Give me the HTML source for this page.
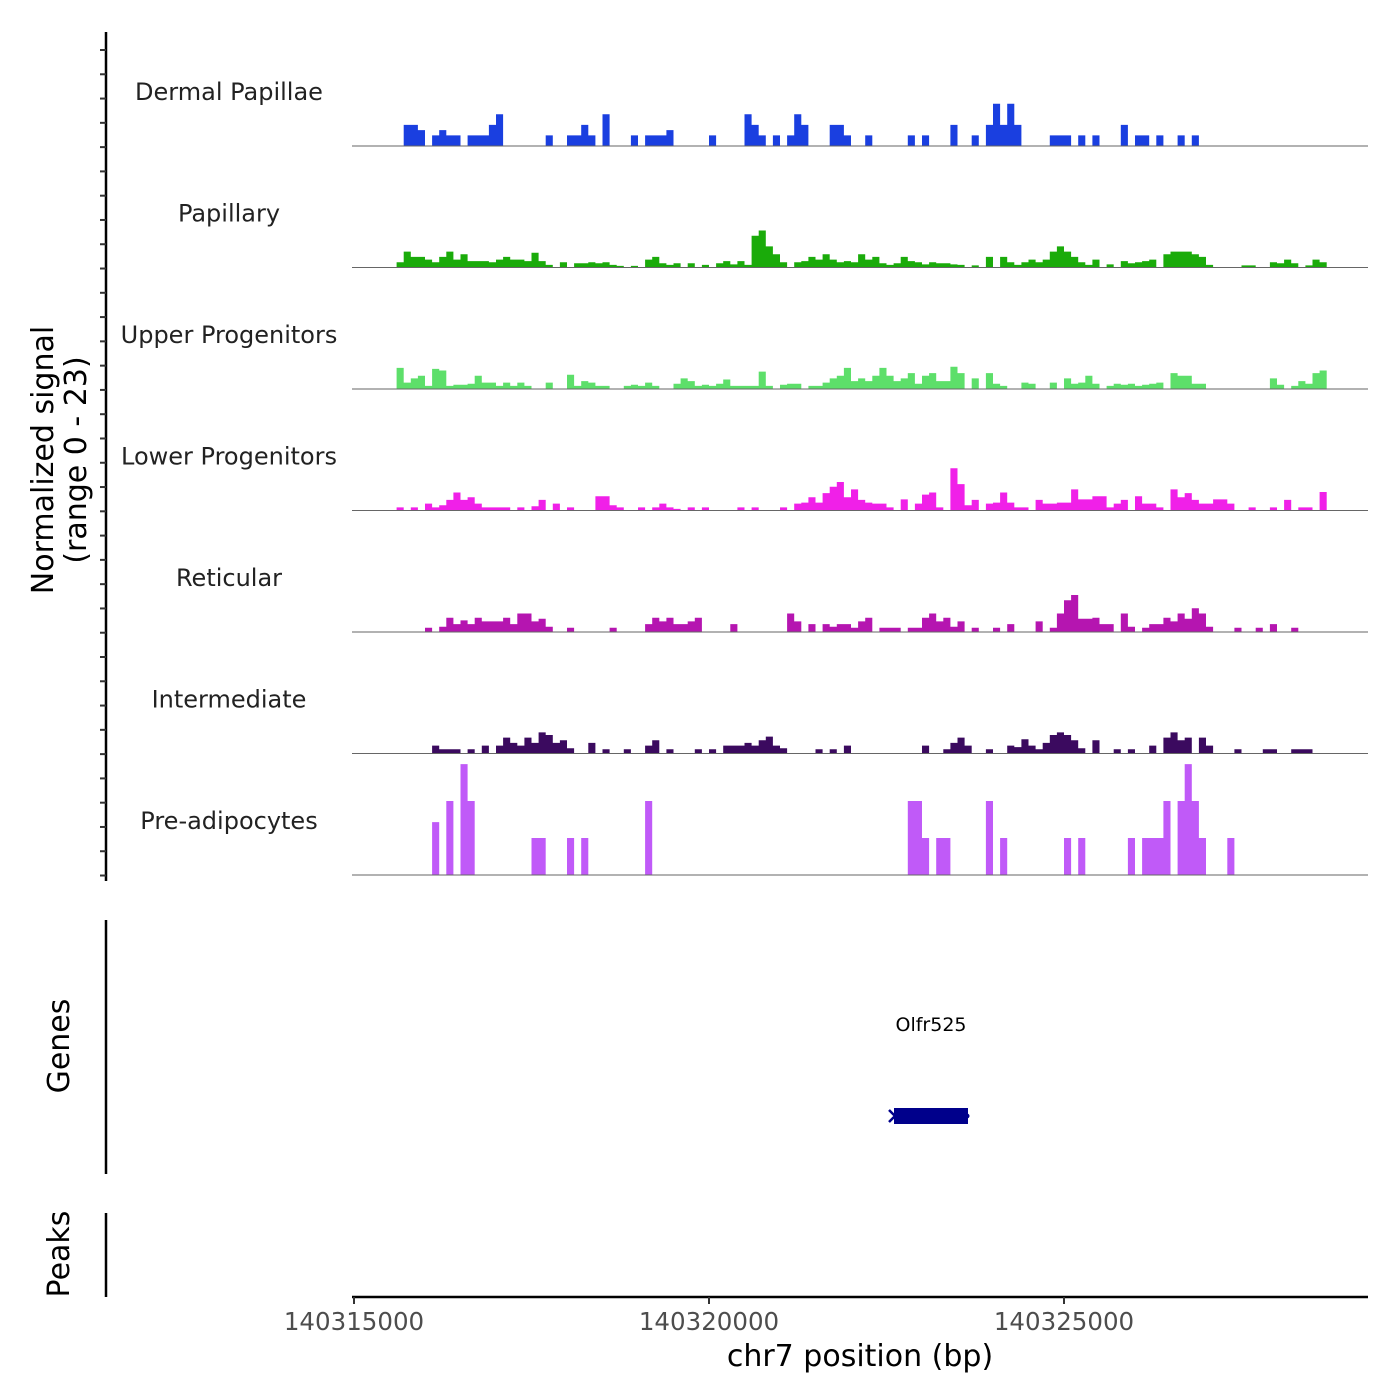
<!DOCTYPE html>
<html><head><meta charset="utf-8">
<style>
html,body{margin:0;padding:0;background:#fff;}
svg{display:block;font-family:"DejaVu Sans","Liberation Sans",sans-serif;}
</style></head>
<body>
<svg id="chart" width="1400" height="1400" viewBox="0 0 1400 1400" xmlns="http://www.w3.org/2000/svg">
<rect x="0" y="0" width="1400" height="1400" fill="#fff"/>
<g id="tracks"></g>
<g id="leftaxis">
  <line x1="106" y1="32" x2="106" y2="881" stroke="#000" stroke-width="2.5"/>
</g>
<text transform="translate(53,460) rotate(-90)" text-anchor="middle" font-size="30" fill="#000">Normalized signal</text>
<text transform="translate(86,460) rotate(-90)" text-anchor="middle" font-size="30" fill="#000">(range 0 - 23)</text>

<line x1="106" y1="920" x2="106" y2="1174" stroke="#000" stroke-width="2.5"/>
<text transform="translate(69,1046) rotate(-90)" text-anchor="middle" font-size="30" fill="#000">Genes</text>
<text x="931" y="1031" text-anchor="middle" font-size="19" fill="#000">Olfr525</text>
<rect x="894" y="1108" width="74" height="16" fill="#00008b"/>
<path d="M889,1110 L895,1116 L889,1122" fill="none" stroke="#00008b" stroke-width="2.5"/>
<circle cx="967" cy="1116" r="2.5" fill="#00008b"/>

<line x1="106" y1="1213" x2="106" y2="1297" stroke="#000" stroke-width="2.5"/>
<text transform="translate(69,1254) rotate(-90)" text-anchor="middle" font-size="30" fill="#000">Peaks</text>

<g id="xaxis">
  <line x1="352" y1="1297" x2="1368" y2="1297" stroke="#000" stroke-width="2.5"/>
</g>
<text x="860" y="1366" text-anchor="middle" font-size="30" fill="#000">chr7 position (bp)</text>
</svg>
<script>
const trackNames = ["Dermal Papillae","Papillary","Upper Progenitors","Lower Progenitors","Reticular","Intermediate","Pre-adipocytes"];
const trackColors = ["#1a3fe0","#1aab0a","#5ddf6a","#f020e8","#b515b0","#3b0a5f","#c05af8"];
const binStart = 140315500;
const binSize = 100;
const xTicks = [140315000,140320000,140325000];
const dermal = [0,0,4,4,3,0,2,3,2,2, 0,2,2,2,4,6,0,0,0,0, 0,0,2,0,0,2,2,4,2,0, 6,0,0,0,2,0,2,2,2,3, 0,0,0,0,0,2,0,0,0,0, 6,4,2,0,2,0,2,6,4,0, 0,0,4,4,2,0,0,2,0,0, 0,0,0,2,0,2,0,0,0,4, 0,0,2,0,4,8,4,8,4,0, 0,0,0,2,2,2,0,2,0,2, 0,0,0,4,0,2,2,0,2,0, 0,2,0,2,0,0,0,0,0,0, 0,0,0,0,0,0,0,0,0,0,0,0];
const papillary = [0,1,3,2,2,1.5,1,2,3,1.5, 2.5,1.2,1.2,1.2,1,1.5,2,1.5,1.5,1.2, 2.8,1.2,0.5,0,1,0,0.8,0.8,1,0.8, 1,0.5,0.3,0,0.3,0,1.5,2,0.8,0.5, 0.8,0,0.8,0,0.5,0,0.8,1.2,0.6,1.2, 0.5,6,7,4,2.5,1,0,1,1.2,2, 1.5,2.5,1.5,1,1.2,1,2.5,1.5,2,0.8, 0.5,0.8,2,1.2,1,0.6,1,0.8,0.8,0.6, 0.5,0,0.4,0,2,0,2,1,0.5,1, 1.5,1,1.5,3,4,3,2,1,0.5,1.5, 0,0.6,0,1.2,0.8,1,1.2,1.5,0,2.5, 3,3,3,2.5,2,0.5,0,0,0,0, 0.4,0.4,0,0,1,0.8,1.5,0.8,0,0.4,1.5,1];
const upper = [0,4,1.2,2,2.5,0.6,3.8,3.5,0.6,0.8, 0.8,1,2.5,1.2,1.2,0.6,1.2,0.6,1.2,0.6, 0,0,1.2,0,0,2.7,0.6,1.5,1.2,0.6, 0.6,0,0,0.6,0.8,0.6,1.2,0.6,0,0, 1,2,1.5,0.6,0.8,0.6,1,1.8,0.6,0.6, 0.6,0.6,3.3,0.6,0,0.8,1,1,0,0.6, 0.6,1.2,2,2.5,4,1.5,2,1.5,2.5,4, 2.5,1.5,2,3,1,2.5,3,1.5,1.5,4.2, 3,0,2,0,3,1,0.6,0,0,1.2, 1,0,0,1.2,0,2,1,1.2,2.5,1, 0,0.6,1,0.8,1,0.6,0.8,1,1.2,0, 3,2.5,2.5,1,1,0,0,0,0,0, 0,0,0,0,2,0.8,0,0.6,1.5,1,3,3.5];
const lower = [0,0.6,0,0.6,0,1.3,0.6,1,2,3.4, 2,2.5,1.3,0.6,0.6,0.6,0.6,0,0.6,0, 0.8,2,0,1.3,0,0.6,0,0,0,2.7, 2.7,1,0.6,0,0,0.6,0,0.6,1.3,0.6, 0.3,0,0.6,0,0.6,0,0,0,0,0.6, 0,0.6,0,0,0,0.6,0,1.3,1.5,2.5, 1.5,3.3,4.5,5.4,2.5,4,2,1.5,1.3,1.3, 0.6,0,2.1,0,1.3,3,3.4,0.6,0,8, 5,1,2,0,1.3,1.5,3.4,1.5,0.6,0.6, 0,2,1.3,1.3,1.5,1.5,4,2.1,2.1,2.7, 2.7,0.6,1.3,2,0,2.7,1.3,1.3,0.6,0, 4,2.5,3.3,2,1.3,1.3,2.1,2.1,1.3,0, 0,0.6,0,0,0.6,0,2,0,0.6,0.6,0,3.5];
const reticular = [0,0,0,0,0,0.8,0,1,2.7,1.5, 2.2,1.5,2.7,2,2,2,2.7,1.5,3.5,3.5, 2,2.5,1,0,0,0.8,0,0,0,0, 0,0.8,0,0,0,0,1.5,2.7,2,2.7, 1.5,1.5,2,2.7,0,0,0,0,1.5,0, 0,0,0,0,0,0,3.5,2,0,1.5, 0,1.5,1,1.5,1.5,0.8,2,2.7,0,0.8, 0.8,0.8,0,0.8,0.8,2.7,3.5,2,2.7,1, 2,0,0.8,0,0,0.8,0,1.5,0,0, 0,2,0,0.8,3.5,6,7,2.5,2.5,2.7, 1.5,1.5,0,3.5,1,0,0.8,1.5,1.5,2.7, 2,3.5,2.5,4.5,3.5,1,0,0,0,0.8, 0,0,0.8,0,1.5,0,0,0.8,0,0,0,0];
const intermediate = [0,0,0,0,0,0,1.5,0.8,0.8,0.8, 0,0.8,0,1.5,0,1.5,3,2,1.5,3, 2,4,3.5,2,2.5,1,0,0,2,0, 0.8,0,0,0.8,0,0,1.5,2.5,0,0.8, 0,0,0,0.8,0,0.8,0,1.5,1.5,1.5, 2,1.5,2.5,3.2,1.5,1,0,0,0,0, 0.8,0,0.8,0,1.5,0,0,0,0,0, 0,0,0,0,0,1.5,0,0,0.8,2, 3,1.5,0,0,0.8,0,0,1.5,1.2,2.7, 1.5,0.8,2,3.5,4,3.5,2.5,1,0,2.5, 0,0,0.8,0,0.8,0,0,1.5,0,3, 4,2.5,3,0,3,1.5,0,0,0,0.8, 0,0,0,0.8,0.8,0,0,0.8,0.8,0.8,0,0];
const preadipocytes = [0,0,0,0,0,0,10,0,14,0, 21,14,0,0,0,0,0,0,0,0, 7,7,0,0,0,7,0,7,0,0, 0,0,0,0,0,0,14,0,0,0, 0,0,0,0,0,0,0,0,0,0, 0,0,0,0,0,0,0,0,0,0, 0,0,0,0,0,0,0,0,0,0, 0,0,0,14,14,7,0,7,7,0, 0,0,0,0,14,0,7,0,0,0, 0,0,0,0,0,7,0,7,0,0, 0,0,0,0,7,0,7,7,7,14, 0,14,21,14,7,0,0,0,7,0, 0,0,0,0,0,0,0,0,0,0,0,0];
const yMax = 23;

const series = [dermal,papillary,upper,lower,reticular,intermediate,preadipocytes];
const NS = "http://www.w3.org/2000/svg";
function xScale(bp){ return 354 + (bp - 140315000) * 0.071; }
const trackH = 121.5, firstBase = 146;
function yScale(v, t){ return (firstBase + t*trackH) - v * (trackH / yMax); }

const tracks = document.getElementById('tracks');
series.forEach((vals, t) => {
  const base = yScale(0, t);
  const g = document.createElementNS(NS,'g');
  
  
  let d = '';
  let open = false;
  vals.forEach((v, i) => {
    const x0 = xScale(binStart + i*binSize), x1 = xScale(binStart + (i+1)*binSize);
    if (v > 0) {
      const y = yScale(v, t);
      if (!open) { d += 'M' + x0.toFixed(2) + ',' + base + ' '; open = true; }
      d += 'L' + x0.toFixed(2) + ',' + y.toFixed(2) + ' L' + x1.toFixed(2) + ',' + y.toFixed(2) + ' ';
    } else if (open) {
      d += 'L' + x0.toFixed(2) + ',' + base + ' Z ';
      open = false;
    }
  });
  if (open) { d += 'L' + xScale(binStart + vals.length*binSize).toFixed(2) + ',' + base + ' Z'; }
  const p = document.createElementNS(NS,'path');
  p.setAttribute('d', d);
  p.setAttribute('fill', trackColors[t]);
  
  
  g.appendChild(p);
  const bl = document.createElementNS(NS,'line');
  bl.setAttribute('x1', 352); bl.setAttribute('x2', 1368);
  bl.setAttribute('y1', base); bl.setAttribute('y2', base);
  bl.setAttribute('stroke', '#666'); bl.setAttribute('stroke-width', '1');
  
  
  g.appendChild(bl);
  const lab = document.createElementNS(NS,'text');
  lab.setAttribute('x', 229); lab.setAttribute('y', base - 46);
  lab.setAttribute('text-anchor', 'middle'); lab.setAttribute('font-size', '24');
  lab.setAttribute('fill', '#222');
  lab.textContent = trackNames[t];
  
  
  g.appendChild(lab);
  tracks.appendChild(g);
});

const la = document.getElementById('leftaxis');
for (let k = 0; k < 35; k++) {
  const y = 50 + k * 24.28;
  const tk = document.createElementNS(NS,'line');
  tk.setAttribute('x1', 100); tk.setAttribute('x2', 106);
  tk.setAttribute('y1', y); tk.setAttribute('y2', y);
  tk.setAttribute('stroke', '#333'); tk.setAttribute('stroke-width', '2');
  
  
  la.appendChild(tk);
}

const xa = document.getElementById('xaxis');
xTicks.forEach(v => {
  const x = xScale(v);
  const tk = document.createElementNS(NS,'line');
  tk.setAttribute('x1', x); tk.setAttribute('x2', x);
  tk.setAttribute('y1', 1297); tk.setAttribute('y2', 1304);
  tk.setAttribute('stroke', '#333'); tk.setAttribute('stroke-width', '2');
  
  
  xa.appendChild(tk);
  const tl = document.createElementNS(NS,'text');
  tl.setAttribute('x', x); tl.setAttribute('y', 1330);
  tl.setAttribute('text-anchor', 'middle'); tl.setAttribute('font-size', '24.5');
  tl.setAttribute('fill', '#4d4d4d');
  tl.textContent = String(v);
  
  
  xa.appendChild(tl);
});
</script>
</body></html>
